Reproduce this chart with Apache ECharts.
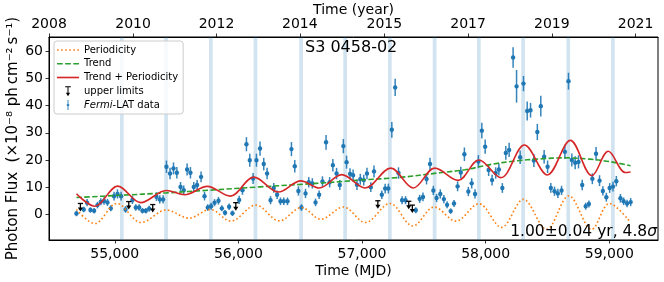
<!DOCTYPE html>
<html><head><meta charset="utf-8">
<script src="https://cdn.jsdelivr.net/npm/echarts@6/dist/echarts.min.js"></script>
<style>html,body{margin:0;padding:0;background:#fff}#c{width:664px;height:282px}</style>
</head><body><div id="c"></div>
<script>
// ---- data ----
const mjd = [54690,54749,54776,54803,54833,54860,54887,54913,54941,54968,54994,55022,55051,55087,55143,55170,55197,55224,55251,55278,
55337,55364,55391,55418,55447,55475,55502,55532,55558,55585,55612,55639,55666,55698,55726,55752,55779,55807,55839,55866,
55892,55925,55952,56006,56033,56065,56092,56119,56146,56175,56205,56232,56260,56286,56313,56340,56367,56397,56429,56456,
56485,56510,56543,56569,56598,56624,56653,56680,56709,56738,56764,56794,56820,56849,56875,56903,56928,56959,56986,57014,
57040,57071,57097,57160,57187,57213,57241,57268,57295,57324,57352,57435,57466,57493,57522,57550,57577,57603,57633,57662,
57688,57717,57744,57773,57799,57828,57860,57887,57914,57941,57969,57996,58024,58052,58081,58107,58135,58163,58190,58222,
58250,58279,58306,58336,58363,58390,58418,58446,58473,58501,58527,58557,58584,58614,58641,58670,58697,58724,58751,58781,
58809,58835,58863,58893,58921,58948,58976,59003,59030,59057,59090,59116,59144,59173];
const flux = [0.3,1.8,4.3,1.6,1.3,3.4,4.6,4.9,4.4,2.2,6.7,7.5,6.7,1.8,5.3,2.5,2.5,1.3,1.3,2.1,
6.5,5.5,5.5,17.5,15.0,16.9,15.3,10.1,8.9,16.5,15.3,10.1,10.8,13.8,6.7,2.5,3.0,4.3,5.0,2.2,
0.6,2.8,0.4,5.3,8.9,25.8,19.9,13.2,19.9,24.2,18.5,15.0,5.2,9.7,7.2,4.8,4.8,4.8,24.0,17.7,
8.6,2.5,7.7,11.8,11.4,4.4,7.2,12.1,26.5,11.8,18.1,15.0,10.8,25.1,19.2,14.9,14.4,10.9,12.9,12.6,
15.0,10.0,15.8,7.2,9.5,9.5,31.1,46.7,15.2,5.2,5.2,1.5,5.7,6.4,13.0,18.5,8.8,6.0,7.5,5.6,
3.5,1.2,4.0,10.3,15.4,22.1,8.4,11.4,7.5,19.4,30.8,24.9,16.3,12.6,15.2,16.5,9.7,22.6,23.7,57.7,
47.1,21.0,48.1,38.0,38.3,19.8,30.3,39.8,21.2,17.5,9.7,8.5,7.7,8.8,23.0,49.0,20.0,19.0,19.3,10.8,
3.0,3.8,13.1,22.3,12.4,8.6,6.3,9.7,10.2,12.2,5.9,4.8,4.0,4.5];
const fluxErr = [1.0,1.0,1.3,1.0,1.0,1.2,1.3,1.4,1.3,1.1,1.6,1.7,1.6,1.2,1.5,1.2,1.2,1.0,1.0,1.1,
1.6,1.5,1.5,2.3,2.1,2.2,2.1,1.8,1.7,2.2,2.1,1.8,1.8,2.0,1.6,1.2,1.3,1.3,1.4,1.1,
1.0,1.2,1.0,1.5,1.7,2.6,2.4,2.0,2.4,2.6,2.3,2.1,1.5,1.8,1.6,1.4,1.4,1.4,2.6,2.3,
1.7,1.2,1.7,1.9,1.9,1.4,1.6,1.9,2.7,1.9,2.3,2.1,1.8,2.6,2.4,2.1,2.1,1.9,2.0,2.0,
2.1,1.8,2.2,1.6,1.8,1.8,2.9,3.2,2.1,1.5,1.5,1.1,1.5,1.6,2.0,2.3,1.7,1.5,1.7,1.5,
1.3,1.0,1.3,1.8,2.1,2.5,1.7,1.9,1.7,2.4,2.9,2.6,2.2,2.0,2.1,2.2,1.8,2.5,2.6,3.8,
6.0,2.5,2.8,3.5,2.7,2.4,3.0,3.8,2.5,2.3,1.8,1.7,1.7,1.7,2.6,3.1,2.4,2.4,2.4,1.9,
1.3,1.3,2.0,2.5,2.0,1.7,1.6,1.8,1.8,1.9,1.6,1.4,1.4,1.5];
const ulMjd = [54722,55113,55307,55979,57128,57378,57407];
const ulFlux = [4.0,4.7,3.6,4.3,5.0,4.8,3.4];

const periodMjd = [54690,54838,55016,55214,55417,55599,55773,55938,56141,56331,56510,56667,56849,57027,57226,57411,57585,57759,57945,58128,58305,58492,58673,58857,59001,59172];
const periodVal = [1.8,-3.4,4.0,-3.0,1.6,-1.4,1.8,-2.5,3.4,-2.4,2.5,-1.8,2.7,-3.0,4.0,-4.3,2.7,-2.5,3.9,-4.8,5.5,-5.5,6.8,-5.5,4.0,-3.0];
const trendMjd = [54690,55040,55418,55769,56173,56497,56756,56982,57306,57629,57832,58034,58236,58439,58641,58843,59005,59172];
const trendVal = [6.2,7.0,7.9,8.9,10.1,11.0,11.8,12.6,13.6,15.3,16.4,18.3,19.6,20.4,20.8,20.3,19.4,17.9];
const modelMjd = [54690,54838,55024,55210,55417,55566,55748,55934,56125,56323,56505,56654,56836,57024,57233,57415,57589,57777,57945,58123,58313,58499,58685,58859,58992,59130,59172];
const modelVal = [7.6,3.0,10.4,4.3,8.8,7.2,10.3,6.7,13.7,8.2,12.3,9.7,14.6,9.7,17.0,9.7,17.0,12.5,20.0,13.5,25.5,14.5,27.2,14.2,23.2,15.4,15.6];

const bandStart = [55042,55400,55762,56123,56492,56848,57210,57572,57930,58288,58653,59014];
const bandEnd   = [55072,55430,55792,56153,56522,56878,57240,57602,57960,58318,58683,59044];

const mjdTicks = [55000,56000,57000,58000,59000];
const yearTickMjd = [54468,55148,55823,56497,57180,57858,58535,59213];
const yearLabels = ['2008','2010','2012','2014','2015','2017','2019','2021'];
const fluxTicks = [0,10,20,30,40,50,60];

// ---- chart ----
const FONT = 'DejaVu Sans';
const X_MIN = 54468, X_MAX = 59394, Y_MIN = -9.44, Y_MAX = 65.25;
const zip = (a,b) => a.map((v,i)=>[v,b[i]]);
const chart = echarts.init(document.getElementById('c'), null, {renderer:'canvas'});

const pts = mjd.map((m,i)=>[m, flux[i], fluxErr[i]]);
const uls = zip(ulMjd, ulFlux);

const axisCommon = {
  nameMoveOverlap:false,
  axisLine:{show:true,onZero:false,lineStyle:{color:'#000',width:1}},
  splitLine:{show:false}
};

const option = {
  animation:false,
  backgroundColor:'#fff',
  grid:{left:49,right:6,top:37,bottom:42,show:true,borderColor:'#000',borderWidth:1,backgroundColor:'transparent',
        containLabel:false,outerBoundsMode:'none'},
  title:{text:'S3 0458-02',left:305,top:40,padding:0,textStyle:{fontFamily:FONT,fontSize:16,fontWeight:'normal',color:'#000'}},
  legend:{
    orient:'vertical',left:54,top:41,padding:[3,5,3,3],itemGap:1.75,itemWidth:22,itemHeight:10,
    borderColor:'#cccccc',borderWidth:1,borderRadius:3,backgroundColor:'rgba(255,255,255,0.8)',
    textStyle:{fontFamily:FONT,fontSize:10,color:'#000',lineHeight:12,rich:{i:{fontFamily:FONT,fontSize:10,fontStyle:'italic',color:'#000'}}},
    formatter:n => n==='Fermi-LAT data' ? '{i|Fermi}-LAT data' : n,
    data:[
      {name:'Periodicity',icon:'path://M0,0h1.6v1.6H0ZM4,0h1.6v1.6H4ZM8,0h1.6v1.6H8ZM12,0h1.6v1.6H12ZM16,0h1.6v1.6H16ZM20,0h1.6v1.6H20Z'},
      {name:'Trend',icon:'path://M0,0h5.5v1.6H0ZM7.9,0h5.5v1.6H7.9ZM15.8,0h5.5v1.6H15.8Z'},
      {name:'Trend + Periodicity',icon:'path://M0,0h21.6v1.6H0Z'},
      {name:'upper limits',icon:'path://M0,0H8V1.5H4.7V9H7L4,14L1,9H3.3V1.5H0Z'},
      {name:'Fermi-LAT data',icon:'path://M4.3,0H5.7V6.2L7.5,8L5.7,9.8V16H4.3V9.8L2.5,8L4.3,6.2Z'}
    ]
  },
  xAxis:[
    Object.assign({type:'value',min:X_MIN,max:X_MAX,position:'bottom',
     name:'Time (MJD)',nameLocation:'middle',nameGap:24,nameTextStyle:{fontFamily:FONT,fontSize:14,color:'#000'},
     axisTick:{show:true,inside:false,length:3.5,customValues:mjdTicks,lineStyle:{color:'#000',width:0.8}},
     axisLabel:{customValues:mjdTicks,margin:7,fontFamily:FONT,fontSize:14,color:'#000'}}, axisCommon),
    Object.assign({type:'value',min:X_MIN,max:X_MAX,position:'top',
     name:'Time (year)',nameLocation:'middle',nameGap:20,nameTextStyle:{fontFamily:FONT,fontSize:14,color:'#000'},
     axisTick:{show:true,inside:false,length:3.5,customValues:yearTickMjd,lineStyle:{color:'#000',width:0.8}},
     axisLabel:{customValues:yearTickMjd,margin:6,fontFamily:FONT,fontSize:14,color:'#000',
       formatter:v=>{const k=yearTickMjd.indexOf(v);return k>=0?yearLabels[k]:'';}}}, axisCommon)
  ],
  yAxis:Object.assign({type:'value',min:Y_MIN,max:Y_MAX,
     name:'Photon Flux  (\u00d710\u207b\u2078 ph\u2009cm\u207b\u00b2\u2009s\u207b\u00b9)',nameLocation:'middle',nameGap:28,
     nameTextStyle:{fontFamily:FONT,fontSize:15,color:'#000'},
     axisTick:{show:true,inside:false,length:3.5,customValues:fluxTicks,lineStyle:{color:'#000',width:0.8}},
     axisLabel:{customValues:fluxTicks,margin:6,fontFamily:FONT,fontSize:14,color:'#000'}}, axisCommon),
  graphic:[{type:'text',right:7,top:224,z:100,
    style:{text:'1.00\u00b10.04 yr, 4.8{s|\u03c3}',font:'15.5px "DejaVu Sans"',fill:'#000',
      rich:{s:{fontFamily:FONT,fontSize:15.5,fontStyle:'italic',fill:'#000'}}}}],
  series:[
    {name:'bands',type:'line',data:[],z:0,silent:true,
     markArea:{silent:true,itemStyle:{color:'rgba(31,119,180,0.2)'},
       data:bandStart.map((s,i)=>[{xAxis:s},{xAxis:bandEnd[i]}])}},
    {name:'Fermi-LAT data',type:'custom',z:2,color:'#1f77b4',itemStyle:{color:'#1f77b4'},
     data:pts,encode:{x:0,y:1},
     renderItem:(params,api)=>{
       const x=api.value(0),y=api.value(1),e=api.value(2);
       const p=api.coord([x,y]),t=api.coord([x,y+e]),b=api.coord([x,y-e]);
       return {type:'group',children:[
         {type:'line',shape:{x1:p[0],y1:t[1],x2:p[0],y2:b[1]},style:{stroke:'#1f77b4',lineWidth:1.5,opacity:0.9}},
         {type:'circle',shape:{cx:p[0],cy:p[1],r:2.2},style:{fill:'#1f77b4'}}
       ]};
     }},
    {name:'upper limits',type:'custom',z:2,color:'#000',itemStyle:{color:'#000'},
     data:uls,encode:{x:0,y:1},
     renderItem:(params,api)=>{
       const p=api.coord([api.value(0),api.value(1)]);const x=p[0],y=p[1];
       return {type:'group',children:[
         {type:'line',shape:{x1:x-2.6,y1:y,x2:x+2.6,y2:y},style:{stroke:'#000',lineWidth:1.3}},
         {type:'line',shape:{x1:x,y1:y,x2:x,y2:y+5},style:{stroke:'#000',lineWidth:1.3}},
         {type:'polygon',shape:{points:[[x-2.6,y+4],[x+2.6,y+4],[x,y+8]]},style:{fill:'#000'}}
       ]};
     }},
    {name:'Periodicity',type:'line',z:3,data:zip(periodMjd,periodVal),smooth:0.35,symbol:'none',showSymbol:false,
     color:'#ff7f0e',lineStyle:{color:'#ff7f0e',width:1.6,type:[1.6,2.4],cap:'butt'}},
    {name:'Trend',type:'line',z:3,data:zip(trendMjd,trendVal),smooth:0.35,symbol:'none',showSymbol:false,
     color:'#2ca02c',lineStyle:{color:'#2ca02c',width:1.6,type:[5.5,2.4]}},
    {name:'Trend + Periodicity',type:'line',z:4,data:zip(modelMjd,modelVal),smooth:0.35,symbol:'none',showSymbol:false,
     color:'#d62728',lineStyle:{color:'#d62728',width:1.6}}
  ]
};
chart.setOption(option);
</script></body></html>
